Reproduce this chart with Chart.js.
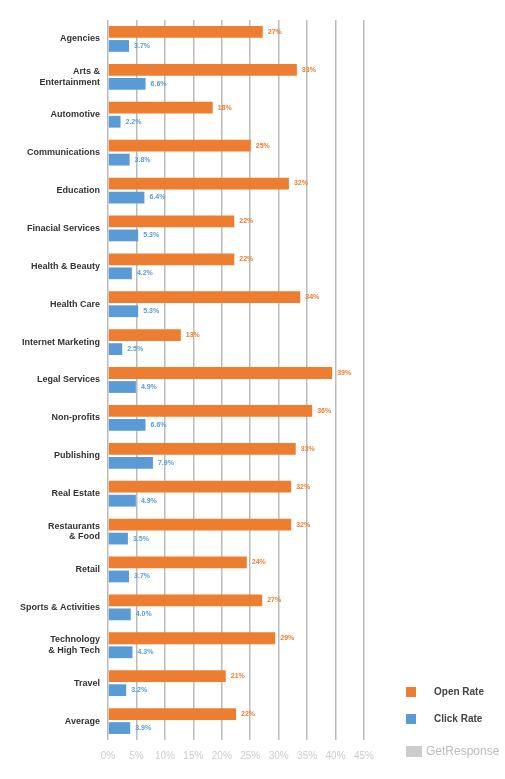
<!DOCTYPE html>
<html><head><meta charset="utf-8">
<script src="https://cdn.jsdelivr.net/npm/chart.js@4"></script>
<style>
body{margin:0;background:#fff;font-family:'Liberation Sans Narrow','Liberation Sans',Arial,sans-serif;}
#wrap{position:relative;width:505px;height:779px;}
.leg{position:absolute;left:406px;font-size:10px;font-weight:bold;color:#444;}
.sw{display:inline-block;width:10px;height:10px;vertical-align:middle;margin-right:18px;}
</style></head><body>
<div id="wrap"><canvas id="c" width="505" height="779"></canvas>
<div class="leg" style="top:686px"><span class="sw" style="background:#ED7D31"></span>Open Rate</div>
<div class="leg" style="top:713px"><span class="sw" style="background:#5B9BD5"></span>Click Rate</div>
<div style="position:absolute;left:406px;top:744px;font-size:12px;color:#bbb;"><span style="display:inline-block;width:16px;height:11px;background:#ccc;vertical-align:middle;margin-right:4px"></span>GetResponse</div>
</div>
<script>
const categories=["Agencies",["Arts &","Entertainment"],"Automotive","Communications","Education","Finacial Services","Health & Beauty","Health Care","Internet Marketing","Legal Services","Non-profits","Publishing","Real Estate",["Restaurants","& Food"],"Retail","Sports & Activities",["Technology","& High Tech"],"Travel","Average"];
const openRate=[27.2,33.2,18.4,25.1,31.8,22.2,22.2,33.8,12.8,39.4,35.9,33.0,32.2,32.2,24.4,27.1,29.4,20.7,22.5];
const clickRate=[3.7,6.6,2.2,3.8,6.4,5.3,4.2,5.3,2.5,4.9,6.6,7.9,4.9,3.5,3.7,4.0,4.3,3.2,3.9];
const openLabels=["27%","33%","18%","25%","32%","22%","22%","34%","13%","39%","36%","33%","32%","32%","24%","27%","29%","21%","22%"];
const clickLabels=["3.7%","6.6%","2.2%","3.8%","6.4%","5.3%","4.2%","5.3%","2.5%","4.9%","6.6%","7.9%","4.9%","3.5%","3.7%","4.0%","4.3%","3.2%","3.9%"];
const xTicks=["0%","5%","10%","15%","20%","25%","30%","35%","40%","45%"];
const FONT="'Liberation Sans Narrow','Liberation Sans',Arial,sans-serif";
const valLabels={id:'vl',afterDatasetsDraw(ch){const ctx=ch.ctx;ctx.save();ctx.font='bold 7px '+FONT;ctx.textBaseline='middle';
 [[0,openLabels,'#ED7D31'],[1,clickLabels,'#5B9BD5']].forEach(([i,l,c])=>{ch.getDatasetMeta(i).data.forEach((b,j)=>{ctx.fillStyle=c;ctx.fillText(l[j],b.x+5,b.y);});});ctx.restore();}};
new Chart(document.getElementById('c'),{type:'bar',
data:{labels:categories,datasets:[
{label:'Open Rate',data:openRate,backgroundColor:'#ED7D31',categoryPercentage:0.74,barPercentage:0.84},
{label:'Click Rate',data:clickRate,backgroundColor:'#5B9BD5',categoryPercentage:0.74,barPercentage:0.84}]},
options:{indexAxis:'y',responsive:false,animation:false,
layout:{padding:{top:20,right:141,bottom:14,left:0}},
plugins:{legend:{display:false},tooltip:{enabled:false}},
scales:{
x:{min:0,max:45,afterFit(s){s.height=25;},border:{display:false},grid:{color:'#bbb',lineWidth:1.5,drawTicks:false},
 ticks:{stepSize:5,padding:10,color:'#ccc',font:{family:FONT,size:10},callback:(v,i)=>xTicks[i]}},
y:{afterFit(s){s.width=108;},border:{display:false},grid:{display:false},
 ticks:{color:'#333',padding:0,font:{family:FONT,size:9,weight:'bold'},autoSkip:false}}}},
plugins:[valLabels]});
</script></body></html>
